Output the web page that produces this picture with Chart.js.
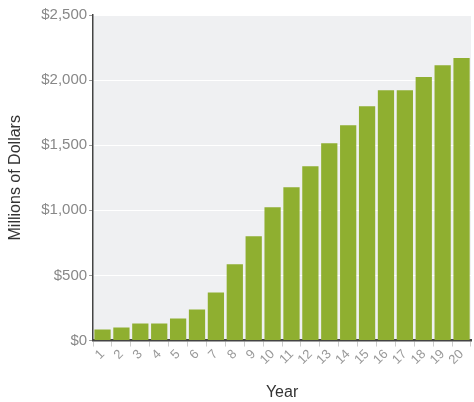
<!DOCTYPE html>
<html>
<head>
<meta charset="utf-8">
<script src="https://cdn.jsdelivr.net/npm/chart.js@4/dist/chart.umd.min.js"></script>
<style>
    html, body { margin: 0; padding: 0; background: #fff; }
    #wrap { width: 474px; height: 402px; position: relative; }
</style>
</head>
<body>
<div id="wrap"><canvas id="revenueChart"></canvas></div>
<script>
// Chart data
const years = ['1', '2', '3', '4', '5', '6', '7', '8', '9', '10',
               '11', '12', '13', '14', '15', '16', '17', '18', '19', '20'];
const revenue = [85, 100, 131, 131, 169, 238, 369, 585, 800, 1023,
                 1177, 1338, 1515, 1654, 1800, 1923, 1923, 2023, 2115, 2169];
const yTicks = [0, 500, 1000, 1500, 2000, 2500];

// Light gray plot background
const plotBackground = {
    id: 'plotBackground',
    beforeDraw(chart) {
        const { ctx, chartArea } = chart;
        ctx.save();
        ctx.fillStyle = '#eff0f2';
        ctx.fillRect(chartArea.left, chartArea.top, chartArea.width, chartArea.height);
        ctx.restore();
    }
};

const ctx = document.getElementById('revenueChart');

new Chart(ctx, {
    type: 'bar',
    data: {
        labels: years,
        datasets: [{
            label: 'Millions of Dollars',
            data: revenue,
            backgroundColor: '#8faf30',
            borderWidth: 0,
            categoryPercentage: 0.86,
            barPercentage: 1.0
        }]
    },
    options: {
        responsive: true,
        maintainAspectRatio: false,
        animation: false,
        layout: {
            padding: { left: 6, right: 3, top: 15, bottom: 0 }
        },
        plugins: {
            legend: { display: false },
            tooltip: { enabled: false }
        },
        scales: {
            y: {
                min: 0,
                max: 2500,
                afterBuildTicks: axis => {
                    axis.ticks = yTicks.map(v => ({ value: v }));
                },
                border: { color: '#444', width: 1.5 },
                grid: {
                    color: '#ffffff',
                    lineWidth: 1,
                    tickColor: '#999',
                    tickLength: 4
                },
                ticks: {
                    color: '#888',
                    padding: 2,
                    font: { family: 'Liberation Sans', size: 15 },
                    callback: v => '$' + v.toLocaleString('en-US')
                },
                title: {
                    display: true,
                    text: 'Millions of Dollars',
                    color: '#333',
                    padding: { top: 0, bottom: 14 },
                    font: { family: 'Liberation Sans', size: 16 }
                }
            },
            x: {
                border: { color: '#444', width: 2.5 },
                grid: {
                    drawOnChartArea: false,
                    tickColor: '#ccc',
                    tickLength: 6
                },
                ticks: {
                    color: '#999',
                    autoSkip: false,
                    maxRotation: 45,
                    minRotation: 45,
                    padding: 0,
                    font: { family: 'Liberation Sans', size: 13 }
                },
                title: {
                    display: true,
                    text: 'Year',
                    color: '#333',
                    padding: { top: 15, bottom: 0 },
                    font: { family: 'Liberation Sans', size: 16 }
                }
            }
        }
    },
    plugins: [plotBackground]
});
</script>
</body>
</html>
